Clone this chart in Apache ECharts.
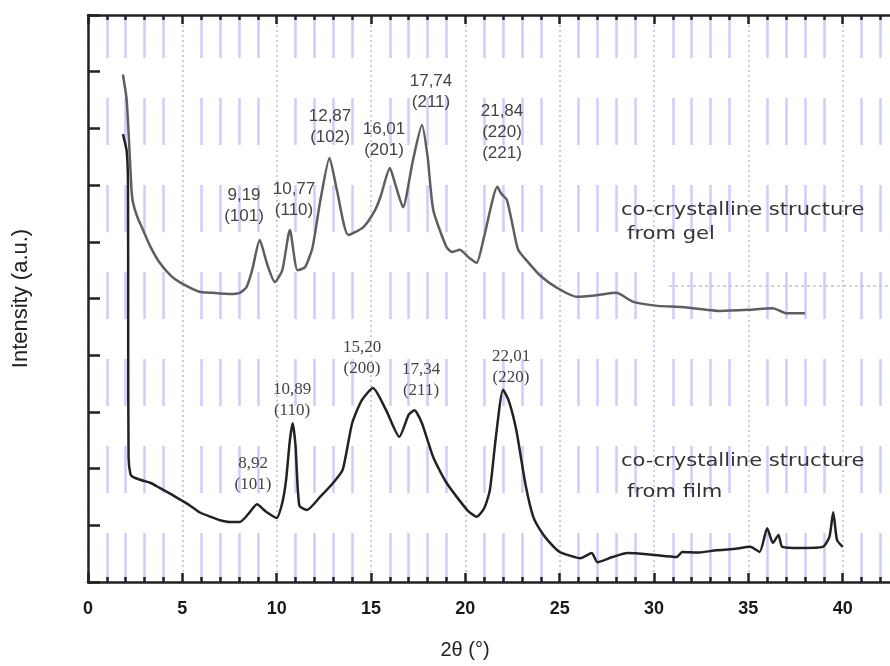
<!DOCTYPE html>
<html>
<head>
<meta charset="utf-8">
<script src="https://cdn.jsdelivr.net/npm/echarts@6/dist/echarts.min.js"></script>
<style>
  html, body { margin: 0; padding: 0; background: #fff; }
  #chart { width: 890px; height: 666px; }
</style>
</head>
<body>
<div id="chart"></div>
<script>
// XRD patterns, 2θ (deg) vs intensity (a.u.)
const gelTheta = [1.85, 2.05, 2.2, 2.3, 2.38, 2.6, 2.9, 3.3, 3.8, 4.4, 4.9, 5.9, 6.6, 7.5, 8.05, 8.4, 8.7, 9.1, 9.5, 9.9, 10.3, 10.7, 11.1, 11.5, 11.9, 12.3, 12.8, 13.2, 13.8, 14.6, 15.2, 15.5, 16.0, 16.3, 16.7, 17.2, 17.7, 18.0, 18.3, 19.0, 19.3, 19.7, 20.2, 20.6, 21.0, 21.7, 21.9, 22.2, 22.5, 22.8, 23.3, 23.95, 24.8, 25.9, 27.0, 28.0, 28.9, 30.2, 31.5, 33.5, 35.0, 36.3, 37.0, 38.0];
const gelIntensity = [8.95, 8.5, 7.6, 6.95, 6.7, 6.45, 6.22, 5.92, 5.63, 5.4, 5.28, 5.12, 5.1, 5.08, 5.1, 5.2, 5.5, 6.03, 5.6, 5.29, 5.5, 6.21, 5.5, 5.55, 5.9, 6.7, 7.48, 6.9, 6.12, 6.26, 6.55, 6.79, 7.3, 7.0, 6.61, 7.4, 8.06, 7.5, 6.56, 5.91, 5.82, 5.86, 5.72, 5.63, 6.1, 6.97, 6.85, 6.74, 6.3, 5.86, 5.65, 5.41, 5.2, 5.03, 5.06, 5.1, 4.94, 4.87, 4.85, 4.78, 4.8, 4.83, 4.74, 4.74];

const filmTheta = [1.85, 2.05, 2.12, 2.13, 2.15, 2.25, 2.4, 2.8, 3.3, 3.8, 4.4, 4.9, 5.4, 5.9, 6.5, 7.0, 7.5, 8.05, 8.5, 8.96, 9.4, 10.0, 10.3, 10.5, 10.7, 10.85, 11.0, 11.2, 11.6, 12.3, 13.0, 13.5, 14.0, 14.5, 15.1, 15.8, 16.5, 17.0, 17.3, 17.7, 18.3, 19.0, 20.1, 20.6, 21.0, 21.3, 21.6, 22.0, 22.3, 22.7, 23.2, 23.6, 24.1, 24.6, 25.0, 25.5, 26.1, 26.7, 27.0, 27.8, 28.6, 29.9, 31.2, 31.5, 32.4, 33.3, 34.2, 35.1, 35.6, 36.0, 36.3, 36.6, 36.8, 37.8, 38.95, 39.3, 39.5, 39.7, 40.0];
const filmIntensity = [7.9, 7.6, 7.0, 4.5, 2.2, 1.9, 1.85, 1.8, 1.75, 1.66, 1.55, 1.45, 1.35, 1.23, 1.15, 1.09, 1.06, 1.06, 1.2, 1.37, 1.25, 1.13, 1.4, 1.8, 2.5, 2.8, 2.4, 1.35, 1.27, 1.5, 1.75, 1.98, 2.8, 3.2, 3.42, 3.03, 2.56, 2.95, 3.03, 2.8, 2.2, 1.75, 1.27, 1.15, 1.3, 1.62, 2.5, 3.39, 3.2, 2.68, 1.7, 1.15, 0.85, 0.65, 0.53, 0.47, 0.42, 0.51, 0.35, 0.44, 0.51, 0.48, 0.44, 0.53, 0.52, 0.56, 0.58, 0.62, 0.53, 0.95, 0.69, 0.83, 0.62, 0.6, 0.62, 0.8, 1.23, 0.74, 0.62];

// peak labels (2θ value, hkl)
const gelPeaks = ['9,19\n(101)', '10,77\n(110)', '12,87\n(102)', '16,01\n(201)', '17,74\n(211)', '21,84\n(220)\n(221)'];
const filmPeaks = ['8,92\n(101)', '10,89\n(110)', '15,20\n(200)', '17,34\n(211)', '22,01\n(220)'];
const gelName = ['co-crystalline structure', 'from gel'];
const filmName = ['co-crystalline structure', 'from film'];
const xTickLabels = ['0', '5', '10', '15', '20', '25', '30', '35', '40'];

// dotted baseline next to gel curve
const gelGuide = [[30.8, 5.22], [45, 5.22]];

const zip = (xs, ys) => xs.map((x, i) => [x, ys[i]]);

const chart = echarts.init(document.getElementById('chart'));

const gelPos = [[244, 206], [294, 200], [330, 127], [384, 140], [431, 92], [502, 132]];
const filmPos = [[253, 474], [292, 400], [362, 358], [421, 380], [511, 367]];

const peakText = (txt, pos, font) => ({
  type: 'text',
  x: pos[0],
  y: pos[1],
  z: 10,
  style: {
    text: txt,
    textAlign: 'center',
    textVerticalAlign: 'middle',
    font: font,
    lineHeight: 21,
    fill: '#444',
  },
});

// wide caption line, stretched like the source figure
const caption = (txt, x, y) => ({
  type: 'text',
  x: x,
  y: y,
  scaleX: 1.17,
  z: 10,
  style: { text: txt, font: '18px "DejaVu Sans"', textVerticalAlign: 'middle', fill: '#333' },
});

const xTickCommon = {
  show: true,
  inside: true,
  length: 9,
  lineStyle: { color: '#222', width: 2.5 },
};

const option = {
  backgroundColor: '#fff',
  animation: false,
  grid: { left: 88, right: -47, top: 15, bottom: 84, show: false, containLabel: false, outerBoundsMode: 'none' },
  xAxis: [
    {
      type: 'value',
      min: 0,
      max: 45,
      interval: 5,
      axisLine: { show: true, lineStyle: { color: '#222', width: 2.5 } },
      axisTick: xTickCommon,
      minorTick: { show: true, splitNumber: 5, length: 5, lineStyle: { color: '#222', width: 2.5 } },
      axisLabel: {
        margin: 18,
        fontSize: 18,
        fontWeight: 'bold',
        color: '#1a1a1a',
        fontFamily: 'Liberation Sans',
        formatter: (v) => (xTickLabels.includes(String(v)) ? String(v) : ''),
      },
      splitLine: {
        show: true,
        lineStyle: { color: '#b8b8f4', width: 1.5, type: [2, 3] },
      },
      minorSplitLine: {
        show: true,
        lineStyle: { color: '#cdcdfb', width: 2.5, type: [47, 40], dashOffset: 4 },
      },
    },
    {
      type: 'value',
      position: 'top',
      min: 0,
      max: 45,
      interval: 5,
      axisLine: { show: true, lineStyle: { color: '#222', width: 2.5 } },
      axisTick: xTickCommon,
      minorTick: { show: true, splitNumber: 5, length: 5, lineStyle: { color: '#222', width: 2.5 } },
      axisLabel: { show: false },
      splitLine: { show: false },
    },
  ],
  yAxis: {
    type: 'value',
    min: 0,
    max: 10,
    interval: 1,
    name: 'Intensity (a.u.)',
    nameLocation: 'middle',
    nameGap: 56,
    nameRotate: 90,
    nameTextStyle: { fontSize: 22, color: '#222', fontFamily: 'Liberation Sans' },
    axisLine: { show: true, lineStyle: { color: '#222', width: 2.5 } },
    axisTick: { show: true, inside: true, length: 12, lineStyle: { color: '#222', width: 2.5 } },
    axisLabel: { show: false },
    splitLine: { show: false },
  },
  graphic: [
    ...gelPeaks.map((t, i) => peakText(t, gelPos[i], '17px "Liberation Sans"')),
    ...filmPeaks.map((t, i) => peakText(t, filmPos[i], '17px "Liberation Serif"')),
    caption(gelName[0], 621, 210),
    caption(gelName[1], 627, 234),
    caption(filmName[0], 621, 461),
    caption(filmName[1], 627, 492),
    {
      type: 'text', x: 465, y: 650, z: 10,
      style: { text: '2θ (°)', font: '20px "Liberation Sans"', textAlign: 'center', textVerticalAlign: 'middle', fill: '#222' },
    },
  ],
  series: [
    {
      name: 'gel',
      type: 'line',
      data: zip(gelTheta, gelIntensity),
      showSymbol: false,
      smooth: 0.2,
      lineStyle: { color: '#5e5e5e', width: 2.5 },
      markLine: {
        silent: true,
        symbol: 'none',
        label: { show: false },
        lineStyle: { color: '#c4c4c4', width: 1.5, type: [3, 3] },
        data: [[{ coord: gelGuide[0] }, { coord: gelGuide[1] }]],
      },
      z: 3,
    },
    {
      name: 'film',
      type: 'line',
      data: zip(filmTheta, filmIntensity),
      showSymbol: false,
      smooth: 0.2,
      lineStyle: { color: '#222', width: 2.5 },
      z: 3,
    },
  ],
};

chart.setOption(option);
</script>
</body>
</html>
